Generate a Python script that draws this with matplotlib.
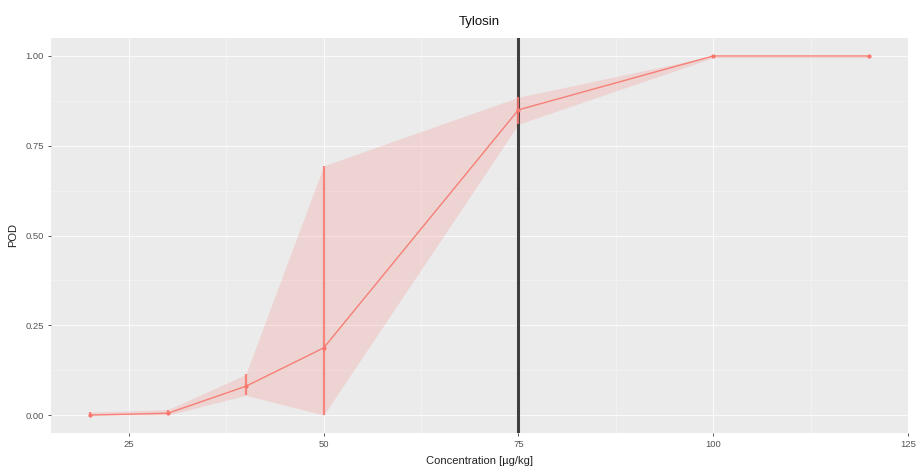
import matplotlib
matplotlib.use("Agg")
import matplotlib.pyplot as plt

plt.rcParams["font.family"] = ["Liberation Sans", "DejaVu Sans"]

# Probability of detection for Tylosin
concentration = [20, 30, 40, 50, 75, 100, 120]
pod = [0.0, 0.005, 0.08, 0.187, 0.85, 1.0, 1.0]
pod_lower = [0.0, 0.0, 0.055, 0.0, 0.81, 0.995, 0.995]
pod_upper = [0.008, 0.015, 0.113, 0.694, 0.885, 1.0, 1.0]
reference_level = 75

x_ticks = [25, 50, 75, 100, 125]
y_ticks = [0.0, 0.25, 0.5, 0.75, 1.0]
y_tick_labels = ["0.00", "0.25", "0.50", "0.75", "1.00"]

red = "#F8766D"
panel_bg = "#EBEBEB"

fig = plt.figure(figsize=(9.21, 4.74), dpi=100)
ax = fig.add_axes([51 / 921, 41 / 474, 857 / 921, 395 / 474])
ax.set_facecolor(panel_bg)

ax.set_xlim(15, 125)
ax.set_ylim(-0.05, 1.05)

# ggplot-like grid: major and minor white lines
for xv in [37.5, 62.5, 87.5, 112.5]:
    ax.axvline(xv, color="#F7F7F7", lw=0.4, zorder=0)
for yv in [0.125, 0.375, 0.625, 0.875]:
    ax.axhline(yv, color="#F7F7F7", lw=0.4, zorder=0)
for xv in x_ticks:
    ax.axvline(xv, color="#FAFAFA", lw=0.8, zorder=0)
for yv in y_ticks:
    ax.axhline(yv, color="#FAFAFA", lw=0.8, zorder=0)

ax.fill_between(concentration, pod_lower, pod_upper, color=red, alpha=0.2,
                lw=0, zorder=1)
ax.plot(concentration, pod, color=red, lw=1.0, alpha=0.9, zorder=3)
ax.vlines(concentration, pod_lower, pod_upper, color=red, lw=1.6, alpha=0.85,
          zorder=3)
ax.scatter(concentration, pod, color=red, s=9, lw=0, zorder=4)

ax.axvline(reference_level, color="#3F3F3F", lw=2.2, zorder=2)

for s in ax.spines.values():
    s.set_visible(False)

ax.set_xticks(x_ticks)
ax.set_xticklabels([str(v) for v in x_ticks])
ax.set_yticks(y_ticks)
ax.set_yticklabels(y_tick_labels)
ax.tick_params(axis="both", colors="#555555", labelsize=6.8, length=2.5,
               width=0.7, pad=2.5)
for lbl in ax.get_xticklabels() + ax.get_yticklabels():
    lbl.set_color("#555555")

ax.set_xlabel("Concentration [µg/kg]", fontsize=8, labelpad=5, color="#222222")
ax.set_ylabel("POD", fontsize=8, labelpad=5, color="#222222")
ax.set_title("Tylosin", fontsize=9.5, pad=9, color="#111111")

fig.savefig("out.png", dpi=100)
